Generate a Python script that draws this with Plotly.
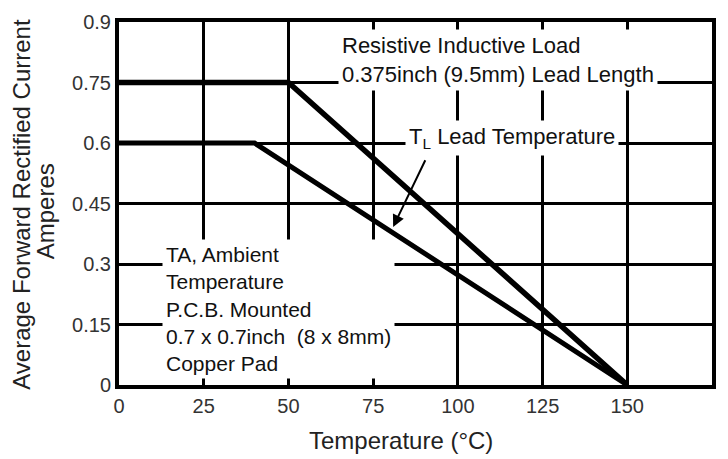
import plotly.graph_objects as go

# ---- data ----
tl_temp = [0, 50, 150]          # T_L lead temperature curve
tl_current = [0.75, 0.75, 0.0]
ta_temp = [0, 40, 150]          # T_A ambient temperature curve
ta_current = [0.6, 0.6, 0.0]

x_ticks = [0, 25, 50, 75, 100, 125, 150, 175]
x_tick_labels = ["0", "25", "50", "75", "100", "125", "150", "175"]
y_ticks = [0, 0.15, 0.3, 0.45, 0.6, 0.75, 0.9]
y_tick_labels = ["0", "0.15", "0.3", "0.45", "0.6", "0.75", "0.9"]

FONT = "Liberation Sans, Arial, sans-serif"

fig = go.Figure()
fig.add_trace(go.Scatter(x=tl_temp, y=tl_current, mode="lines",
                         line=dict(color="black", width=5.5), showlegend=False))
fig.add_trace(go.Scatter(x=ta_temp, y=ta_current, mode="lines",
                         line=dict(color="black", width=5), showlegend=False))

ann_font = dict(family=FONT, size=22, color="#111")
ta_font = dict(family=FONT, size=21, color="#111")

annotations = [
    dict(x=64.5, y=0.806, xref="x", yref="y", xanchor="left", yanchor="middle",
         align="left", showarrow=False, bgcolor="white", borderpad=3,
         text="Resistive Inductive Load<br>0.375inch (9.5mm) Lead Length", font=ann_font),
    dict(x=84.3, y=0.612, xref="x", yref="y", xanchor="left", yanchor="middle",
         align="left", showarrow=False, bgcolor="white", borderpad=3,
         text="T<sub>L</sub> Lead Temperature", font=ann_font),
    dict(x=12.8, y=0.188, xref="x", yref="y", xanchor="left", yanchor="middle",
         align="left", showarrow=False, bgcolor="white", borderpad=3,
         text="TA, Ambient<br>Temperature<br>P.C.B. Mounted<br>0.7 x 0.7inch  (8 x 8mm)<br>Copper Pad",
         font=ta_font),
    # arrow from T_L label to curve
    dict(x=80.9, y=0.392, ax=90.6, ay=0.561, xref="x", yref="y", axref="x", ayref="y",
         text="", showarrow=True, arrowhead=2, arrowsize=1.2, arrowwidth=2, arrowcolor="black"),
    # axis titles
    dict(x=0.4755, y=-0.152, xref="paper", yref="paper", xanchor="center", yanchor="middle",
         showarrow=False, text="Temperature (°C)",
         font=dict(family=FONT, size=24, color="#222")),
    dict(x=-0.165, y=0.497, xref="paper", yref="paper", xanchor="center", yanchor="middle",
         showarrow=False, textangle=-90, text="Average Forward Rectified Current",
         font=dict(family=FONT, size=24, color="#222")),
    dict(x=-0.124, y=0.48, xref="paper", yref="paper", xanchor="center", yanchor="middle",
         showarrow=False, textangle=-90, text="Amperes",
         font=dict(family=FONT, size=24, color="#222")),
]

fig.update_layout(
    width=728, height=459,
    margin=dict(l=119, r=16, t=11, b=74),
    paper_bgcolor="white", plot_bgcolor="white",
    annotations=annotations,
    showlegend=False,
)
fig.update_xaxes(range=[0, 175], tickvals=x_ticks, ticktext=x_tick_labels,
                 showgrid=True, gridcolor="black", gridwidth=3, zeroline=False,
                 showline=True, linecolor="black", linewidth=4, mirror=True,
                 ticks="", tickfont=dict(family=FONT, size=20, color="#333"))
fig.update_yaxes(range=[0, 0.9], tickvals=y_ticks, ticktext=y_tick_labels,
                 showgrid=True, gridcolor="black", gridwidth=3, zeroline=False,
                 showline=True, linecolor="black", linewidth=4, mirror=True,
                 ticks="", tickfont=dict(family=FONT, size=20, color="#333"))

fig.write_html("out.html", config={"displayModeBar": False},
               post_script="document.body.style.margin='0';document.body.style.overflow='hidden';")
